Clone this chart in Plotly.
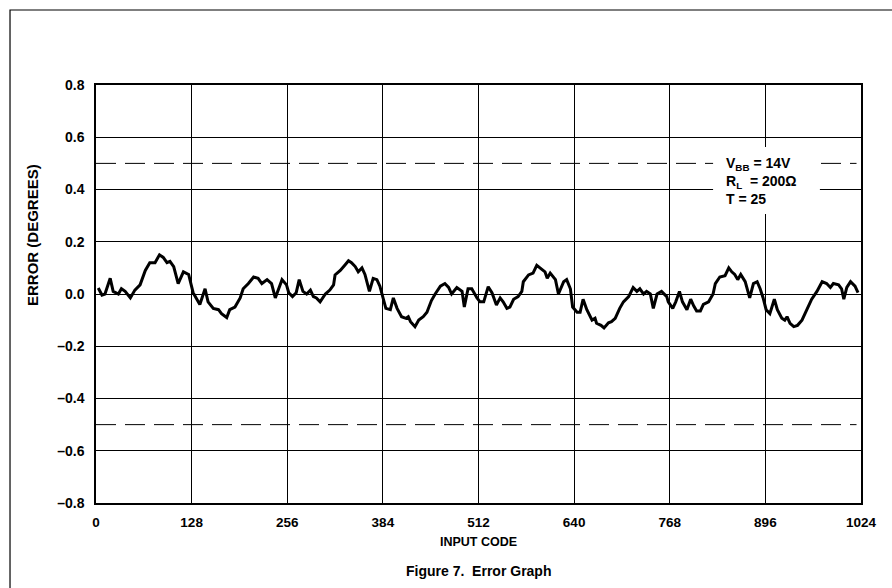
import plotly.graph_objects as go

# ---- data ----
input_code = [3, 8, 12, 19, 23, 30, 34, 39, 46, 52, 59, 66, 72, 79, 85, 90, 95, 99, 104, 110, 117, 124,
              130, 135, 139, 146, 150, 157, 164, 168, 175, 179, 186, 193, 197, 204, 211, 217, 222, 229,
              235, 240, 249, 255,
              258, 263, 268, 272, 277, 282, 287, 291, 295, 300, 307, 313, 318, 320, 327, 333, 338, 342,
              347, 351, 356, 360, 366, 371, 376, 380, 384, 388, 394, 398, 403, 409, 415, 418, 421, 427,
              432, 438, 443, 449, 454, 461, 467, 472, 476, 483, 490, 493, 498, 503, 510,
              514, 519, 525, 530, 536, 541, 545, 550, 554, 559, 565, 570, 572, 579, 585, 590, 595, 601,
              604, 608, 615, 619, 626, 630, 635, 638, 644, 648, 652, 657, 664, 668, 670, 676, 680, 686,
              690, 695, 701, 706, 713, 719, 724, 728, 733, 737, 742, 746, 751, 757, 764,
              766, 772, 776, 781, 785, 791, 796, 800, 804, 809, 813, 820, 826, 829, 835, 842, 847, 851,
              855, 859, 863, 869, 875, 880, 885, 889, 893, 897, 902, 908, 912, 918, 922, 925, 929, 934,
              939, 945, 951, 958, 965, 972, 978, 983, 987, 994, 998, 1001, 1005, 1010, 1016, 1020]
error_deg = [0.023, -0.004, 0.0, 0.06, 0.01, 0.0, 0.02, 0.01, -0.015, 0.015, 0.035, 0.09, 0.12, 0.12,
             0.15, 0.14, 0.12, 0.125, 0.105, 0.04, 0.085, 0.075, 0.005, -0.02, -0.04, 0.02, -0.03,
             -0.055, -0.06, -0.075, -0.09, -0.06, -0.05, -0.015, 0.02, 0.04, 0.065, 0.06, 0.04, 0.055,
             0.04, -0.015, 0.055, 0.035,
             0.005, -0.01, 0.005, 0.055, 0.01, 0.0, 0.015, -0.01, -0.015, -0.03, 0.0, 0.015, 0.035,
             0.073, 0.09, 0.11, 0.127, 0.12, 0.105, 0.085, 0.1, 0.075, 0.01, 0.06, 0.055, 0.03, -0.01,
             -0.055, -0.06, -0.015, -0.055, -0.087, -0.093, -0.087, -0.106, -0.125, -0.1, -0.087,
             -0.07, -0.025, 0.0, 0.03, 0.04, 0.025, 0.0, 0.025, 0.01, -0.05, 0.02, 0.02, -0.015,
             -0.03, -0.03, 0.028, 0.005, -0.042, -0.015, -0.03, -0.055, -0.05, -0.02, -0.01, 0.01,
             0.047, 0.073, 0.08, 0.11, 0.1, 0.085, 0.06, 0.08, 0.055, 0.0, 0.047, 0.055, 0.02, -0.05,
             -0.07, -0.07, -0.02, -0.06, -0.1, -0.093, -0.112, -0.12, -0.13, -0.11, -0.106, -0.093,
             -0.055, -0.03, -0.01, 0.025, 0.01, 0.02, 0.0, 0.01, 0.0, -0.055, 0.0, 0.01, -0.01,
             -0.03, -0.055, -0.03, 0.01, -0.03, -0.06, -0.02, -0.045, -0.065, -0.065, -0.04, -0.03,
             0.0, 0.04, 0.065, 0.07, 0.1, 0.085, 0.075, 0.055, 0.075, 0.047, -0.015, 0.04, 0.047,
             0.02, -0.015, -0.06, -0.075, -0.02, -0.06, -0.093, -0.1, -0.087, -0.112, -0.125, -0.12,
             -0.1, -0.06, -0.02, 0.01, 0.047, 0.04, 0.025, 0.04, 0.035, 0.02, -0.02, 0.025, 0.047,
             0.03, 0.005]

x_ticks = [0, 128, 256, 384, 512, 640, 768, 896, 1024]
y_ticks = [-0.8, -0.6, -0.4, -0.2, 0.0, 0.2, 0.4, 0.6, 0.8]
y_ticktext = ["–0.8", "–0.6", "–0.4", "–0.2", "0.0", "0.2", "0.4", "0.6", "0.8"]
limit_lines = [0.5, -0.5]
limit_x_range = [0, 1018]
cond_box_x = [826, 969]
cond_box_y = [0.306, 0.563]
cond_text = "V<sub>BB</sub> = 14V<br>R<sub>L</sub>  = 200Ω<br>T = 25"

FONT = "Liberation Sans, Arial, sans-serif"

fig = go.Figure()
fig.add_trace(go.Scatter(x=input_code, y=error_deg, mode="lines",
                         line=dict(color="black", width=3), hoverinfo="skip"))

shapes = []
for yv in limit_lines:
    shapes.append(dict(type="line", xref="x", yref="y", x0=limit_x_range[0], x1=limit_x_range[1],
                       y0=yv, y1=yv, line=dict(color="black", width=1, dash="20px,9px"),
                       layer="between"))
# white box behind conditions text (covers gridlines and dashed line)
shapes.append(dict(type="rect", xref="x", yref="y", x0=cond_box_x[0], x1=cond_box_x[1],
                   y0=cond_box_y[0], y1=cond_box_y[1], fillcolor="white",
                   line=dict(width=0), layer="between"))
# outer figure border
shapes.append(dict(type="rect", xref="paper", yref="paper", x0=-0.1124, x1=1.2, y0=-0.35, y1=1.1794,
                   line=dict(color="black", width=1.2), fillcolor="rgba(0,0,0,0)", layer="above"))

annotations = [
    dict(text="<b>" + cond_text + "</b>", xref="x", yref="y", x=cond_box_x[0] + 14, y=0.433,
         xanchor="left", yanchor="middle", align="left", showarrow=False,
         font=dict(family=FONT, size=14, color="black")),
    dict(text="<b>ERROR (DEGREES)</b>", xref="paper", yref="paper", x=-0.0837, y=0.641,
         textangle=-90, showarrow=False, xanchor="center", yanchor="middle",
         font=dict(family=FONT, size=15, color="black")),
    dict(text="<b>INPUT CODE</b>", xref="paper", yref="paper", x=0.5, y=-0.0933,
         showarrow=False, xanchor="center", yanchor="middle",
         font=dict(family=FONT, size=12.5, color="black")),
    dict(text="<b>Figure 7.&nbsp; Error Graph</b>", xref="paper", yref="paper", x=0.5, y=-0.1627,
         showarrow=False, xanchor="center", yanchor="middle",
         font=dict(family=FONT, size=14, color="black")),
]

fig.update_layout(
    width=892, height=588,
    margin=dict(l=96, r=31, t=85, b=85),
    paper_bgcolor="white", plot_bgcolor="white",
    showlegend=False,
    shapes=shapes, annotations=annotations,
    font=dict(family=FONT, color="black"),
)
fig.update_xaxes(range=[0, 1024], tickvals=x_ticks, ticktext=["<b>%d</b>" % v for v in x_ticks],
                 showgrid=True, gridcolor="black", gridwidth=1, zeroline=False,
                 showline=True, linecolor="black", linewidth=1.5, mirror=True,
                 ticks="", tickfont=dict(family=FONT, size=13.5, color="black"),
                 ticklabelstandoff=6)
fig.update_yaxes(range=[-0.8, 0.8], tickvals=y_ticks, ticktext=["<b>%s</b>" % t for t in y_ticktext],
                 showgrid=True, gridcolor="black", gridwidth=1, zeroline=True, zerolinecolor="black",
                 zerolinewidth=1, showline=True, linecolor="black", linewidth=1.5, mirror=True,
                 ticks="", tickfont=dict(family=FONT, size=14, color="black"),
                 ticklabelstandoff=7)

fig.write_html("out.html", config={"displayModeBar": False},
               post_script="document.body.style.margin='0';")
